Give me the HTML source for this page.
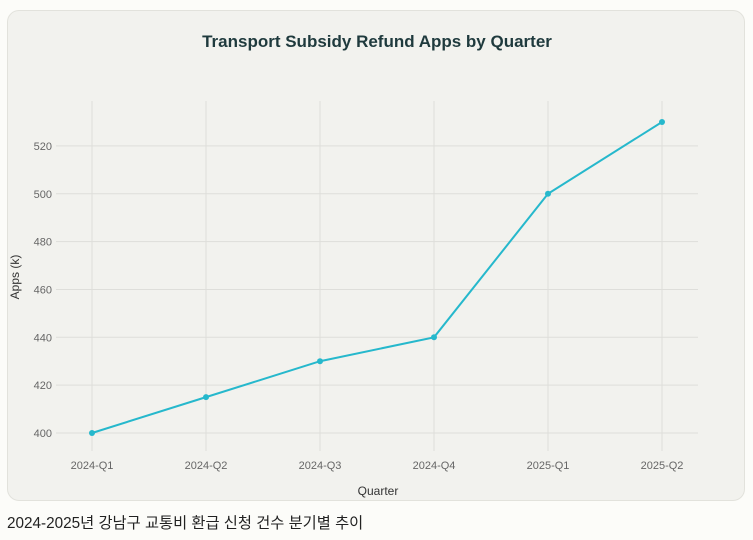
<!DOCTYPE html>
<html><head><meta charset="utf-8"><style>
body{margin:0;width:753px;height:540px;background:#fcfcf9;font-family:"Liberation Sans","Noto Sans CJK KR",sans-serif;overflow:hidden;position:relative}
#card{position:absolute;left:7px;top:10px;width:738px;height:491px;background:#f2f2ee;border:1px solid #e2e2dc;border-radius:12px;box-sizing:border-box}
#cap{position:absolute;left:7px;top:511px;font-size:15.3px;color:#222}
svg{position:absolute;left:0;top:0}
</style></head><body>
<div id="card"></div>
<svg id="chart" width="753" height="540">
<text x="377" y="47" text-anchor="middle" font-size="17" font-weight="bold" fill="#1f3a3d">Transport Subsidy Refund Apps by Quarter</text>
<text x="378" y="495" text-anchor="middle" font-size="12" fill="#333">Quarter</text>
<text transform="translate(19,277) rotate(-90)" text-anchor="middle" font-size="12" fill="#333">Apps (k)</text>
<g id="g"></g>
</svg>
<div id="cap">2024-2025년 강남구 교통비 환급 신청 건수 분기별 추이</div>
<script>
const categories=["2024-Q1","2024-Q2","2024-Q3","2024-Q4","2025-Q1","2025-Q2"];
const values=[400,415,430,440,500,530];
const yTicks=[400,420,440,460,480,500,520];
const NS="http://www.w3.org/2000/svg";
const g=document.getElementById('g');
const x=i=>92+i*114;
const y=v=>433-(v-400)*(311/130);
function mk(t,a){const e=document.createElementNS(NS,t);for(const k in a)e.setAttribute(k,a[k]);g.appendChild(e);return e;}
yTicks.forEach(t=>{
 const l=mk('line',{x1:56,x2:698,y1:y(t),y2:y(t),stroke:'#dededa','stroke-width':1});
 
 
 const tx=mk('text',{x:52,y:y(t)+4,'text-anchor':'end','font-size':11,fill:'#666'});tx.textContent=t;
 
 
});
categories.forEach((c,i)=>{
 const l=mk('line',{x1:x(i),x2:x(i),y1:101,y2:451,stroke:'#dededa','stroke-width':1});
 
 
 const tx=mk('text',{x:x(i),y:469,'text-anchor':'middle','font-size':11,fill:'#666'});tx.textContent=c;
 
 
});
const p=mk('polyline',{points:values.map((v,i)=>x(i)+','+y(v)).join(' '),fill:'none',stroke:'#26b8cc','stroke-width':2});


values.forEach((v,i)=>{
 const c=mk('circle',{cx:x(i),cy:y(v),r:3,fill:'#26b8cc'});
 
 
});
</script>
</body></html>
